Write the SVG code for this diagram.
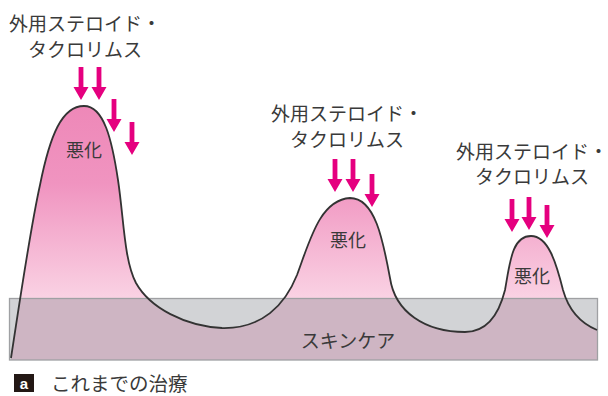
<svg xmlns="http://www.w3.org/2000/svg" xmlns:xlink="http://www.w3.org/1999/xlink" width="608" height="396" viewBox="0 0 608 396">
  <style>
    .lbl { font-family: "Noto Sans CJK JP", "Noto Sans", sans-serif; font-size: 19px; fill: #3a3a3a; text-anchor: middle; }
    .bad { font-family: "Noto Sans CJK JP", "Noto Sans", sans-serif; font-size: 18px; fill: #3a3a3a; text-anchor: middle; }
    .arr { fill: #e5007f; }
    .curve { fill: none; stroke: #333333; stroke-width: 1.8; stroke-linejoin: round; }
  </style>
  <defs>
    <linearGradient id="pink" gradientUnits="userSpaceOnUse" x1="0" y1="106" x2="0" y2="300">
      <stop offset="0" stop-color="#ee88b8"/>
      <stop offset="0.4" stop-color="#f094c0"/>
      <stop offset="1" stop-color="#fad3e4"/>
    </linearGradient>
    <path id="arrow" d="M -2.4 0 H 2.4 V 20 H 7.5 L 0 33 L -7.5 20 H -2.4 Z"/>
  </defs>
  <rect width="608" height="396" fill="#ffffff"/>

  <g id="severity-area">
    <path fill="url(#pink)" d="M 11 358 C 20 300, 30 230, 40 185 C 50 135, 62 106, 84 106 C 104 106, 112 140, 118 180 C 124 220, 124 260, 136 283 C 150 308, 185 326, 222 328 C 262 329, 285 305, 297 275 C 310 240, 320 200, 350 198 C 375 198, 383 240, 390 278 C 395 312, 425 332, 465 332 C 490 332, 500 310, 505 290 C 510 262, 512 236, 531 236 C 548 236, 556 262, 563 290 C 570 315, 585 325, 597 330 L 597 360 L 11 360 Z"/>
  </g>

  <g id="skincare">
    <rect x="9.5" y="298.5" width="588" height="61.5" fill="#727580" fill-opacity="0.32" stroke="#9fa0a3" stroke-width="1.3"/>
    <text class="lbl" x="348" y="348">スキンケア</text>
  </g>

  <g id="curve">
    <path class="curve" d="M 11 358 C 20 300, 30 230, 40 185 C 50 135, 62 106, 84 106 C 104 106, 112 140, 118 180 C 124 220, 124 260, 136 283 C 150 308, 185 326, 222 328 C 262 329, 285 305, 297 275 C 310 240, 320 200, 350 198 C 375 198, 383 240, 390 278 C 395 312, 425 332, 465 332 C 490 332, 500 310, 505 290 C 510 262, 512 236, 531 236 C 548 236, 556 262, 563 290 C 570 315, 585 325, 597 330"/>
  </g>

  <g id="hill1">
    <text class="lbl" x="85" y="31">外用ステロイド・</text>
    <text class="lbl" x="85" y="57">タクロリムス</text>
    <text class="bad" x="84" y="157">悪化</text>
  </g>
  <g id="hill2">
    <text class="lbl" x="347" y="121">外用ステロイド・</text>
    <text class="lbl" x="347" y="147">タクロリムス</text>
    <text class="bad" x="348" y="247">悪化</text>
  </g>
  <g id="hill3">
    <text class="lbl" x="532" y="159">外用ステロイド・</text>
    <text class="lbl" x="532" y="184">タクロリムス</text>
    <text class="bad" x="532" y="283">悪化</text>
  </g>

  <g id="connectors">
    <use xlink:href="#arrow" href="#arrow" class="arr" x="81" y="67"/>
    <use xlink:href="#arrow" href="#arrow" class="arr" x="99" y="67"/>
    <use xlink:href="#arrow" href="#arrow" class="arr" x="114" y="99"/>
    <use xlink:href="#arrow" href="#arrow" class="arr" x="132" y="122"/>
    <use xlink:href="#arrow" href="#arrow" class="arr" x="335" y="159"/>
    <use xlink:href="#arrow" href="#arrow" class="arr" x="353" y="159"/>
    <use xlink:href="#arrow" href="#arrow" class="arr" x="372" y="174"/>
    <use xlink:href="#arrow" href="#arrow" class="arr" x="512" y="199"/>
    <use xlink:href="#arrow" href="#arrow" class="arr" x="529" y="197"/>
    <use xlink:href="#arrow" href="#arrow" class="arr" x="547" y="205"/>
  </g>

  <g id="caption">
    <rect x="14" y="374" width="20" height="18" fill="#231815"/>
    <text x="24" y="389" font-family="'Liberation Sans', Arial, sans-serif" font-size="15" font-weight="bold" fill="#ffffff" text-anchor="middle">a</text>
    <text x="51" y="391" font-family="'Noto Sans CJK JP', 'Noto Sans', sans-serif" font-size="19.5" fill="#3a3a3a">これまでの治療</text>
  </g>
</svg>
